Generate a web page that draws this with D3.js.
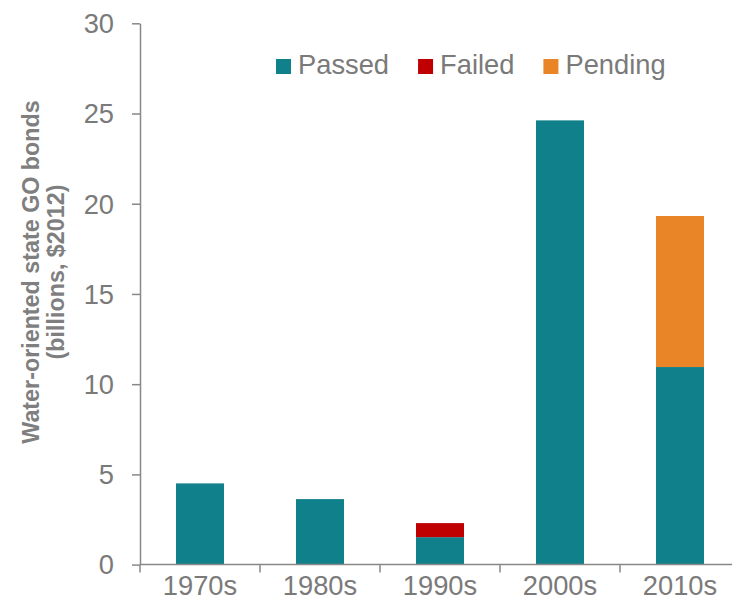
<!DOCTYPE html>
<html>
<head>
<meta charset="utf-8">
<script src="https://cdn.jsdelivr.net/npm/d3@7"></script>
<style>
  body { margin: 0; background: #fff; }
  text { font-family: "Liberation Sans", Arial, sans-serif; }
</style>
</head>
<body>
<div id="chart"></div>
<script>
// data
var decades = ["1970s", "1980s", "1990s", "2000s", "2010s"];
var passed  = [4.5, 3.63, 1.52, 24.62, 10.95];
var failed  = [0, 0, 0.78, 0, 0];
var pending = [0, 0, 0, 0, 8.37];
var seriesNames = ["Passed", "Failed", "Pending"];
var yTicks = [0, 5, 10, 15, 20, 25, 30];

var colors = { Passed: "#10808a", Failed: "#c00000", Pending: "#e98427" };

var margin = {top: 23.3, right: -8, bottom: 46.4, left: 140},
    width = 732 - margin.left - margin.right,
    height = 611 - margin.top - margin.bottom;

var svg = d3.select("#chart").append("svg")
    .attr("width", 732)
    .attr("height", 611)
  .append("g")
    .attr("transform", "translate(" + margin.left + "," + margin.top + ")");

// build rows for the stack
var rows = decades.map(function(d, i) {
  return { decade: d, Passed: passed[i], Failed: failed[i], Pending: pending[i] };
});

var x = d3.scaleBand()
    .domain(decades)
    .range([0, 600])
    .paddingInner(0.6)
    .paddingOuter(0.3);

var y = d3.scaleLinear()
    .domain([0, 30])
    .range([height, 0]);

var stacked = d3.stack().keys(seriesNames)(rows);

svg.selectAll("g.layer")
    .data(stacked)
  .enter().append("g")
    .attr("class", "layer")
    .attr("fill", function(d) { return colors[d.key]; })
  .selectAll("rect")
    .data(function(d) { return d; })
  .enter().append("rect")
    .attr("x", function(d) { return x(d.data.decade); })
    .attr("width", x.bandwidth())
    .attr("y", function(d) { return y(d[1]); })
    .attr("height", function(d) { return y(d[0]) - y(d[1]); });

var axisColor = "#888";
var textColor = "#7a7a7a";
var fontSize = "27.3px";

// y axis
var yAxis = svg.append("g")
    .call(d3.axisLeft(y).tickValues(yTicks).tickSize(8).tickSizeOuter(0).tickPadding(18));
yAxis.selectAll("path, line").attr("stroke", axisColor).attr("stroke-width", 1.5);
yAxis.selectAll("text")
    .attr("fill", textColor)
    .style("font-size", fontSize)
    .attr("dy", "0.34em");

// x axis: ticks sit at the band edges, labels at the band centers
var gap = (x.step() - x.bandwidth()) / 2;
var edges = decades.map(function(d) { return x(d) - gap; });
edges.push(x(decades[decades.length - 1]) + x.bandwidth() + gap);

var xAxis = svg.append("g").attr("transform", "translate(0," + height + ")");
xAxis.append("line")
    .attr("x1", 0).attr("x2", 620)
    .attr("stroke", axisColor).attr("stroke-width", 1.5);
xAxis.selectAll("line.edge")
    .data(edges)
  .enter().append("line")
    .attr("class", "edge")
    .attr("x1", function(d) { return d; })
    .attr("x2", function(d) { return d; })
    .attr("y1", 0).attr("y2", 8)
    .attr("stroke", axisColor).attr("stroke-width", 1.5);
xAxis.selectAll("text")
    .data(decades)
  .enter().append("text")
    .attr("x", function(d) { return x(d) + x.bandwidth() / 2; })
    .attr("y", 30.5)
    .attr("text-anchor", "middle")
    .attr("fill", textColor)
    .style("font-size", fontSize)
    .text(function(d) { return d; });

// y axis title, two lines
var title = svg.append("text")
    .attr("transform", "translate(" + (-101) + "," + (272 - margin.top) + ") rotate(-90)")
    .attr("text-anchor", "middle")
    .attr("fill", "#7f7f7f")
    .style("font-size", "23.3px")
    .style("font-weight", "bold");
title.append("tspan").attr("x", 0).attr("dy", 0).text("Water-oriented state GO bonds");
title.append("tspan").attr("x", 0).attr("dy", 25).text("(billions, $2012)");

// legend
var legend = svg.append("g").attr("transform", "translate(" + (276 - margin.left) + "," + (59 - margin.top) + ")");
var lx = 0;
seriesNames.forEach(function(name) {
  var item = legend.append("g").attr("transform", "translate(" + lx + ",0)");
  item.append("rect")
      .attr("width", 15).attr("height", 15)
      .attr("fill", colors[name]);
  var t = item.append("text")
      .attr("x", 22).attr("y", 15.3)
      .attr("fill", textColor)
      .style("font-size", fontSize)
      .text(name);
  lx += 22 + t.node().getComputedTextLength() + 29;
});
</script>
</body>
</html>
